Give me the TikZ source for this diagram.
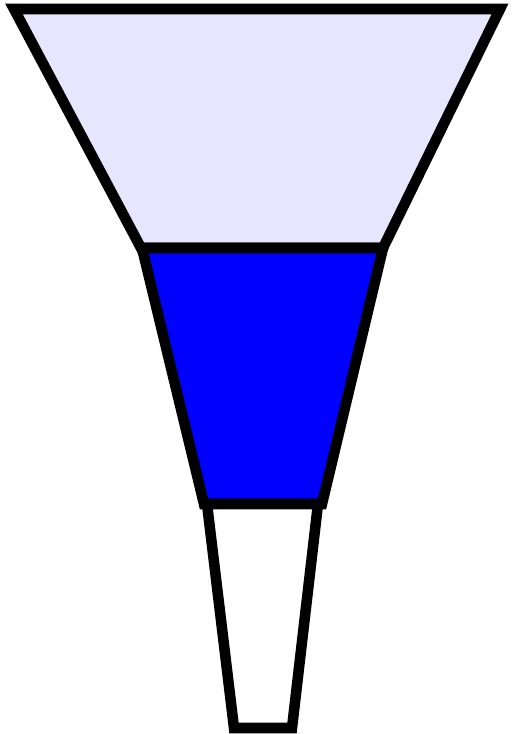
\documentclass[tikz,border=0pt]{standalone}
\usepackage{tikz}
\definecolor{lavender}{RGB}{230,230,255}
\definecolor{pureblue}{RGB}{0,0,255}

\begin{document}
\begin{tikzpicture}[x=0.02cm, y=-0.02cm,
  part/.style={draw=black, line width=6pt, line join=miter}
]
\useasboundingbox (0,0) rectangle (512,734);

% Top section (wide)
\filldraw[part, fill=lavender] (14,9) -- (500,9) -- (383,248) -- (141,248) -- cycle;

% Middle section (filled)
\filldraw[part, fill=pureblue] (142,248) -- (383,248) -- (322,504) -- (204,504) -- cycle;

% Bottom section (spout)
\filldraw[part, fill=white] (207,504) -- (318,504) -- (292,728) -- (234,728) -- cycle;

\end{tikzpicture}
\end{document}
